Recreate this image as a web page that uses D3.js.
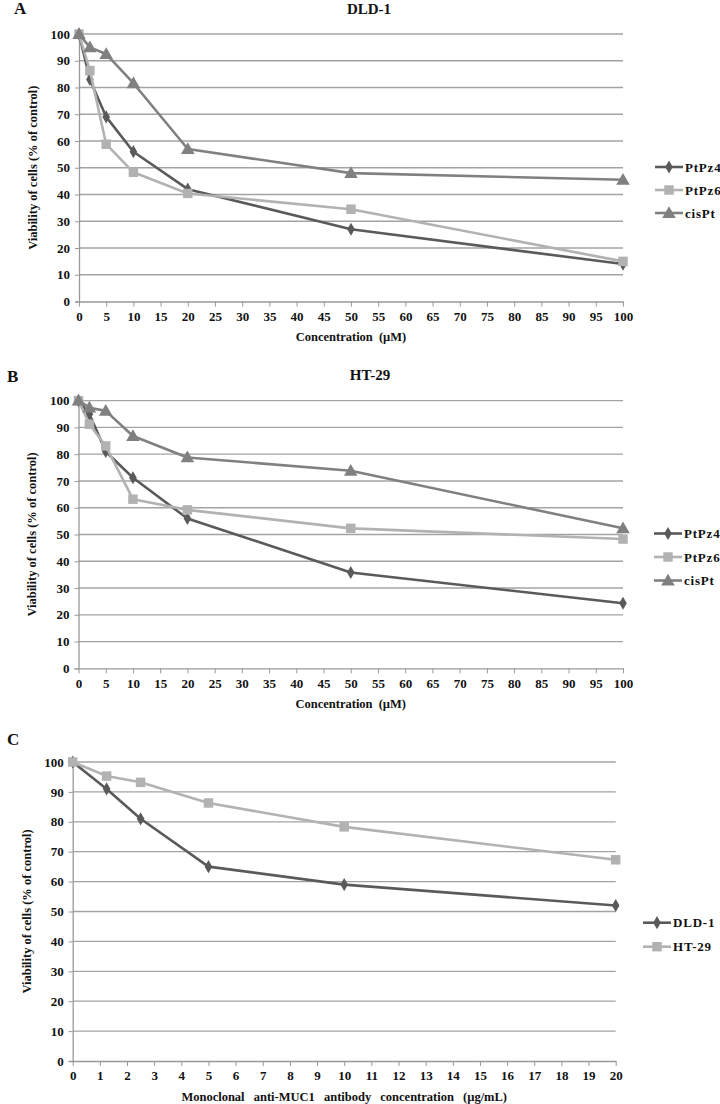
<!DOCTYPE html>
<html><head><meta charset="utf-8">
<script src="https://cdn.jsdelivr.net/npm/d3@7"></script>
<style>
body{margin:0;background:#fff;}
svg{display:block;font-family:"Liberation Serif","Times New Roman",serif;}
</style></head><body>
<svg id="c" width="720" height="1104"></svg>
<script>
// ---- data ----
const concAB = [0, 2, 5, 10, 20, 50, 100];
const dldPtPz4 = [100, 83, 69, 56, 42, 27, 14];
const dldPtPz6 = [100, 86.3, 58.8, 48.3, 40.4, 34.5, 15];
const dldCisPt = [100, 95, 92.5, 81.6, 57, 48, 45.5];
const htPtPz4 = [100, 95, 81, 71.2, 56, 35.8, 24.3];
const htPtPz6 = [100, 91.2, 83.1, 63.2, 59.2, 52.3, 48.3];
const htCisPt = [100, 97.4, 96.2, 86.8, 78.8, 73.8, 52.3];
const concC = [0, 1.25, 2.5, 5, 10, 20];
const cDLD1 = [100, 91, 81, 65, 59, 52];
const cHT29 = [100, 95.3, 93.2, 86.3, 78.3, 67.3];
const yTicks = [0,10,20,30,40,50,60,70,80,90,100];
const xTicksAB = d3.range(0, 101, 5);
const xTicksC = d3.range(0, 21, 1);
const seriesNames = ["PtPz4", "PtPz6", "cisPt"];
const seriesNamesC = ["DLD-1", "HT-29"];

const colors = {dark:"#5a5a5a", light:"#b2b2b2", mid:"#808080"};
const svg = d3.select("#c");

function marker(g, type, x, y, color){
  if(type==="diamond"){
    g.append("path").attr("d", d3.symbol(d3.symbolDiamond, 50)()).attr("transform",`translate(${x},${y})`).attr("fill",color);
  } else if(type==="square"){
    g.append("path").attr("d", d3.symbol(d3.symbolSquare, 90)()).attr("transform",`translate(${x},${y})`).attr("fill",color);
  } else {
    g.append("path").attr("d", d3.symbol(d3.symbolTriangle, 80)()).attr("transform",`translate(${x},${y+1})`).attr("fill",color);
  }
}

function panel(cfg){
  const g = svg.append("g");
  const x = d3.scaleLinear().domain(cfg.xDomain).range([cfg.x0, cfg.x1]);
  const y = d3.scaleLinear().domain([0,100]).range([cfg.y0, cfg.y1]);
  // grid
  g.selectAll("line.grid").data(yTicks.filter(d=>d>0)).enter().append("line")
    .attr("x1", cfg.x0).attr("x2", cfg.x1).attr("y1", d=>y(d)).attr("y2", d=>y(d))
    .attr("stroke","#a3a3a3").attr("stroke-width",1.3);
  // y axis
  const ya = g.append("g").attr("transform",`translate(${cfg.x0},0)`)
    .call(d3.axisLeft(y).tickValues(yTicks).tickSize(4).tickPadding(5));
  ya.select(".domain").attr("stroke","#999").attr("stroke-width",1.3);
  ya.selectAll(".tick line").attr("stroke","#999");
  ya.selectAll("text").attr("font-size",13).attr("font-weight","bold").attr("fill","#111")
    .attr("font-family","Liberation Serif, serif");
  // x axis
  const xa = g.append("g").attr("transform",`translate(0,${cfg.y0})`)
    .call(d3.axisBottom(x).tickValues(cfg.xTicks).tickSize(5).tickPadding(5).tickSizeOuter(0));
  xa.select(".domain").attr("stroke","#999").attr("stroke-width",1.3);
  xa.selectAll(".tick line").attr("stroke","#999");
  xa.selectAll("text").attr("font-size",13).attr("font-weight","bold").attr("fill","#111")
    .attr("font-family","Liberation Serif, serif");
  // lines
  const line = d3.line().x(d=>x(d[0])).y(d=>y(d[1]));
  cfg.series.forEach(s=>{
    const pts = cfg.xs.map((v,i)=>[v, s.vals[i]]);
    g.append("path").datum(pts).attr("d", line).attr("fill","none")
      .attr("stroke", s.color).attr("stroke-width",2.6).attr("stroke-linejoin","round");
    pts.forEach(p=>marker(g, s.marker, x(p[0]), y(p[1]), s.color));
  });
  // legend
  cfg.series.forEach((s,i)=>{
    const ly = cfg.legY + i*cfg.legDy;
    g.append("line").attr("x1",cfg.legX).attr("x2",cfg.legX+28).attr("y1",ly).attr("y2",ly)
      .attr("stroke",s.color).attr("stroke-width",2.6);
    marker(g, s.marker, cfg.legX+14, ly, s.color);
    g.append("text").attr("x",cfg.legX+30).attr("y",ly+4.5).text(s.name)
      .attr("font-size",13).attr("font-weight","bold").attr("letter-spacing",0.8).attr("fill","#111");
  });
  // axis titles
  g.append("text").attr("transform",`translate(${cfg.yTitleX},${(cfg.y0+cfg.y1)/2}) rotate(-90)`)
    .attr("text-anchor","middle").attr("font-size",12.5).attr("font-weight","bold").attr("fill","#111")
    .text("Viability of cells (% of control)");
  g.append("text").attr("x",(cfg.x0+cfg.x1)/2).attr("y",cfg.xTitleY).attr("text-anchor","middle")
    .attr("font-size",12.5).attr("font-weight","bold").attr("fill","#111")
    .attr("word-spacing", cfg.wordSpacing||3).text(cfg.xTitle);
  if(cfg.title){
    g.append("text").attr("x",cfg.titleX).attr("y",cfg.titleY).attr("text-anchor","middle")
      .attr("font-size",15).attr("font-weight","bold").attr("fill","#111").text(cfg.title);
  }
  g.append("text").attr("x",cfg.letterX).attr("y",cfg.letterY).attr("font-size",17)
    .attr("font-weight","bold").attr("fill","#111").text(cfg.letter);
}

panel({x0:79, x1:623, y0:301.5, y1:34, xDomain:[0,100], xTicks:xTicksAB, xs:concAB,
  series:[
    {name:seriesNames[0], vals:dldPtPz4, color:colors.dark, marker:"diamond"},
    {name:seriesNames[1], vals:dldPtPz6, color:colors.light, marker:"square"},
    {name:seriesNames[2], vals:dldCisPt, color:colors.mid, marker:"triangle"}],
  legX:655, legY:167, legDy:23, yTitleX:37, xTitleY:341, xTitle:"Concentration  (µM)",
  title:"DLD-1", titleX:369, titleY:14, letter:"A", letterX:14, letterY:14});

panel({x0:78.5, x1:623, y0:668.3, y1:400.7, xDomain:[0,100], xTicks:xTicksAB, xs:concAB,
  series:[
    {name:seriesNames[0], vals:htPtPz4, color:colors.dark, marker:"diamond"},
    {name:seriesNames[1], vals:htPtPz6, color:colors.light, marker:"square"},
    {name:seriesNames[2], vals:htCisPt, color:colors.mid, marker:"triangle"}],
  legX:654, legY:533.5, legDy:23.5, yTitleX:36, xTitleY:708, xTitle:"Concentration  (µM)",
  title:"HT-29", titleX:370, titleY:380, letter:"B", letterX:7, letterY:382});

panel({x0:72.7, x1:615.7, y0:1061, y1:762, xDomain:[0,20], xTicks:xTicksC, xs:concC,
  series:[
    {name:seriesNamesC[0], vals:cDLD1, color:colors.dark, marker:"diamond"},
    {name:seriesNamesC[1], vals:cHT29, color:colors.light, marker:"square"}],
  legX:643, legY:922.7, legDy:24, yTitleX:31, xTitleY:1101, wordSpacing:6,
  xTitle:"Monoclonal anti-MUC1 antibody concentration (µg/mL)",
  title:null, letter:"C", letterX:7, letterY:745});
</script>
</body></html>
